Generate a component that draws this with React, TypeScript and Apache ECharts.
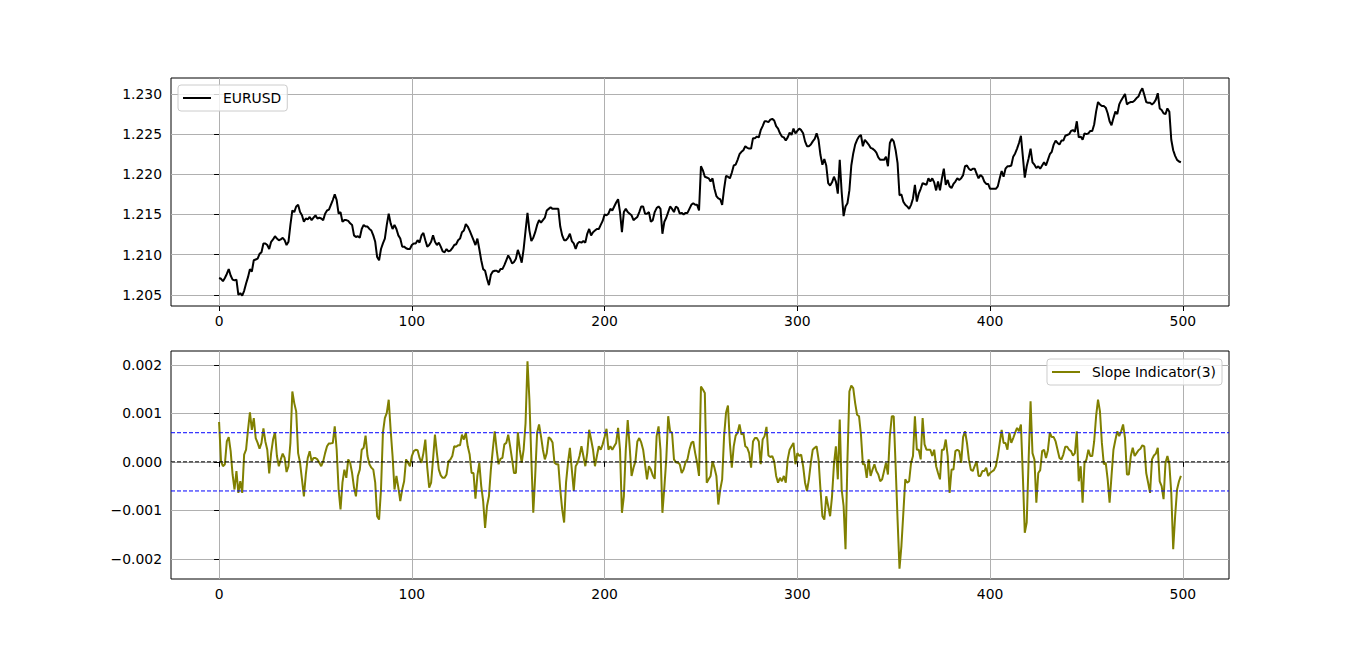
import React, { useEffect, useRef } from "react";
import * as echarts from "echarts";

const xRange = [-24.95, 523.95];
const xTicks = [0, 100, 200, 300, 400, 500];
const priceTicks = [1.205, 1.21, 1.215, 1.22, 1.225, 1.23];
const slopeTicks = [-0.002, -0.001, 0, 0.001, 0.002];
const thresholds = [0.0006, -0.0006];
const zeroLevel = 0;
const priceName = "EURUSD";
const slopeName = "Slope Indicator(3)";

const eurusd = [
  1.2071, 1.2070, 1.2067, 1.2071, 1.2076, 1.2082, 1.2074, 1.2069, 1.2068, 1.2069,
  1.2050, 1.2052, 1.2049, 1.2055, 1.2064, 1.2072, 1.2082, 1.2079, 1.2093, 1.2094,
  1.2095, 1.2101, 1.2103, 1.2114, 1.2114, 1.2112, 1.2107, 1.2116, 1.2119, 1.2123,
  1.2120, 1.2118, 1.2119, 1.2121, 1.2118, 1.2112, 1.2116, 1.2137, 1.2155, 1.2153,
  1.2160, 1.2162, 1.2153, 1.2149, 1.2141, 1.2145, 1.2144, 1.2147, 1.2143, 1.2146,
  1.2149, 1.2145, 1.2146, 1.2145, 1.2143, 1.2151, 1.2155, 1.2156, 1.2162, 1.2168,
  1.2175, 1.2168, 1.2151, 1.2153, 1.2141, 1.2143, 1.2143, 1.2142, 1.2139, 1.2137,
  1.2124, 1.2122, 1.2123, 1.2121, 1.2132, 1.2137, 1.2135, 1.2135, 1.2132, 1.2130,
  1.2124, 1.2116, 1.2097, 1.2093, 1.2107, 1.2114, 1.2120, 1.2137, 1.2151, 1.2139,
  1.2132, 1.2137, 1.2132, 1.2124, 1.2120, 1.2110, 1.2110, 1.2108, 1.2107, 1.2107,
  1.2112, 1.2114, 1.2114, 1.2118, 1.2115, 1.2124, 1.2127, 1.2118, 1.2110, 1.2112,
  1.2116, 1.2124, 1.2116, 1.2112, 1.2115, 1.2110, 1.2104, 1.2103, 1.2107, 1.2104,
  1.2105, 1.2108, 1.2112, 1.2113, 1.2118, 1.2120, 1.2128, 1.2130, 1.2138, 1.2135,
  1.2130, 1.2124, 1.2118, 1.2112, 1.2120, 1.2107, 1.2093, 1.2082, 1.2080, 1.2070,
  1.2062, 1.2075, 1.2079, 1.2080, 1.2080, 1.2078, 1.2082, 1.2082, 1.2087, 1.2093,
  1.2099, 1.2095, 1.2089, 1.2091, 1.2095, 1.2106, 1.2099, 1.2090, 1.2107, 1.2130,
  1.2152, 1.2130, 1.2117, 1.2121, 1.2128, 1.2137, 1.2143, 1.2140, 1.2143, 1.2146,
  1.2155, 1.2157, 1.2159, 1.2157, 1.2157, 1.2157, 1.2157, 1.2135, 1.2124, 1.2118,
  1.2118, 1.2121, 1.2126, 1.2117, 1.2114, 1.2107, 1.2114, 1.2116, 1.2115, 1.2117,
  1.2115, 1.2126, 1.2132, 1.2124, 1.2128, 1.2130, 1.2132, 1.2132, 1.2137, 1.2142,
  1.2150, 1.2149, 1.2151, 1.2157, 1.2155, 1.2160, 1.2165, 1.2169, 1.2153, 1.2128,
  1.2153, 1.2157, 1.2153, 1.2151, 1.2149, 1.2143, 1.2145, 1.2147, 1.2153, 1.2160,
  1.2160, 1.2151, 1.2151, 1.2153, 1.2141, 1.2143, 1.2153, 1.2158, 1.2160, 1.2157,
  1.2126, 1.2141, 1.2146, 1.2153, 1.2160, 1.2157, 1.2153, 1.2160, 1.2158, 1.2151,
  1.2152, 1.2150, 1.2152, 1.2152, 1.2157, 1.2162, 1.2164, 1.2162, 1.2162, 1.2155,
  1.2210, 1.2205, 1.2197, 1.2196, 1.2195, 1.2191, 1.2195, 1.2182, 1.2173, 1.2170,
  1.2169, 1.2162, 1.2182, 1.2198, 1.2197, 1.2195, 1.2202, 1.2211, 1.2212, 1.2218,
  1.2225, 1.2228, 1.2230, 1.2235, 1.2233, 1.2232, 1.2232, 1.2245, 1.2245, 1.2247,
  1.2246, 1.2255, 1.2260, 1.2266, 1.2266, 1.2265, 1.2268, 1.2269, 1.2267, 1.2260,
  1.2257, 1.2251, 1.2247, 1.2246, 1.2242, 1.2246, 1.2252, 1.2249, 1.2257, 1.2251,
  1.2254, 1.2257, 1.2255, 1.2251, 1.2241, 1.2235, 1.2235, 1.2237, 1.2241, 1.2244,
  1.2251, 1.2243, 1.2224, 1.2212, 1.2219, 1.2211, 1.2189, 1.2186, 1.2190, 1.2197,
  1.2191, 1.2176, 1.2218, 1.2178, 1.2148, 1.2160, 1.2164, 1.2180, 1.2211, 1.2226,
  1.2237, 1.2243, 1.2247, 1.2249, 1.2235, 1.2243, 1.2240, 1.2237, 1.2233, 1.2232,
  1.2230, 1.2227, 1.2221, 1.2218, 1.2218, 1.2218, 1.2222, 1.2210, 1.2239, 1.2244,
  1.2241, 1.2230, 1.2214, 1.2174, 1.2175, 1.2166, 1.2162, 1.2160, 1.2157, 1.2162,
  1.2170, 1.2187, 1.2166, 1.2176, 1.2182, 1.2189, 1.2188, 1.2187, 1.2195, 1.2191,
  1.2195, 1.2190, 1.2180, 1.2191, 1.2180, 1.2195, 1.2207, 1.2187, 1.2193, 1.2185,
  1.2183, 1.2188, 1.2191, 1.2195, 1.2193, 1.2195, 1.2199, 1.2210, 1.2211, 1.2207,
  1.2205, 1.2207, 1.2207, 1.2201, 1.2195, 1.2199, 1.2197, 1.2191, 1.2188, 1.2188,
  1.2182, 1.2182, 1.2182, 1.2182, 1.2185, 1.2195, 1.2204, 1.2197, 1.2207, 1.2210,
  1.2210, 1.2211, 1.2222, 1.2226, 1.2232, 1.2239, 1.2248, 1.2222, 1.2196, 1.2210,
  1.2220, 1.2232, 1.2215, 1.2212, 1.2208, 1.2210, 1.2207, 1.2211, 1.2215, 1.2211,
  1.2218, 1.2225, 1.2228, 1.2237, 1.2242, 1.2239, 1.2237, 1.2242, 1.2242, 1.2248,
  1.2249, 1.2250, 1.2254, 1.2255, 1.2253, 1.2266, 1.2246, 1.2247, 1.2243, 1.2251,
  1.2250, 1.2251, 1.2254, 1.2254, 1.2262, 1.2278, 1.2290, 1.2287, 1.2285, 1.2285,
  1.2283, 1.2276, 1.2266, 1.2261, 1.2270, 1.2278, 1.2275, 1.2287, 1.2292, 1.2296,
  1.2300, 1.2287, 1.2289, 1.2290, 1.2290, 1.2292, 1.2295, 1.2297, 1.2303, 1.2307,
  1.2299, 1.2290, 1.2289, 1.2289, 1.2287, 1.2289, 1.2293, 1.2301, 1.2282, 1.2280,
  1.2276, 1.2275, 1.2282, 1.2278, 1.2243, 1.2230, 1.2223, 1.2218, 1.2216, 1.2215,
];

const slope = [
  82e-5, 1e-5, -9e-5, -5e-5, 42e-5, 51e-5, 22e-5, -26e-5, -57e-5, -19e-5,
  -64e-5, -40e-5, -64e-5, 15e-5, 25e-5, 66e-5, 102e-5, 66e-5, 90e-5, 49e-5,
  39e-5, 27e-5, 39e-5, 69e-5, 42e-5, 25e-5, -24e-5, 18e-5, 46e-5, 61e-5,
  12e-5, -9e-5, 5e-5, 17e-5, 8e-5, -21e-5, -9e-5, 39e-5, 145e-5, 121e-5,
  104e-5, 18e-5, -2e-5, -36e-5, -71e-5, -26e-5, 8e-5, 22e-5, 1e-5, 8e-5,
  8e-5, 5e-5, -2e-5, -9e-5, 1e-5, 18e-5, 32e-5, 38e-5, 38e-5, 39e-5,
  73e-5, 25e-5, -57e-5, -98e-5, -43e-5, -16e-5, -33e-5, 5e-5, -2e-5, -23e-5,
  -53e-5, -71e-5, -29e-5, -16e-5, 25e-5, 29e-5, 54e-5, 12e-5, -5e-5, -12e-5,
  -16e-5, -43e-5, -112e-5, -119e-5, -57e-5, 60e-5, 90e-5, 101e-5, 128e-5, 66e-5,
  12e-5, -57e-5, -29e-5, -53e-5, -81e-5, -57e-5, -40e-5, 5e-5, -2e-5, -9e-5,
  12e-5, 22e-5, 25e-5, 24e-5, 8e-5, -2e-5, 18e-5, 46e-5, -12e-5, -53e-5,
  -43e-5, 5e-5, 56e-5, 18e-5, -16e-5, -28e-5, -33e-5, -33e-5, -26e-5, 1e-5,
  5e-5, 12e-5, 32e-5, 31e-5, 34e-5, 34e-5, 56e-5, 46e-5, 60e-5, 32e-5,
  15e-5, -23e-5, -23e-5, -76e-5, -29e-5, -2e-5, -50e-5, -81e-5, -136e-5, -91e-5,
  -71e-5, -16e-5, 25e-5, 63e-5, 25e-5, -5e-5, 6e-5, 8e-5, 36e-5, 39e-5,
  56e-5, 32e-5, 5e-5, -23e-5, -23e-5, 61e-5, 25e-5, -2e-5, 25e-5, 80e-5,
  207e-5, 128e-5, 5e-5, -105e-5, -29e-5, 60e-5, 77e-5, 53e-5, 25e-5, 5e-5,
  18e-5, 51e-5, 47e-5, 40e-5, -2e-5, -5e-5, -5e-5, -57e-5, -98e-5, -125e-5,
  -43e-5, -2e-5, 29e-5, -16e-5, -60e-5, -9e-5, -2e-5, 12e-5, 32e-5, 12e-5,
  -9e-5, 18e-5, 66e-5, 46e-5, 25e-5, -9e-5, 12e-5, 32e-5, 25e-5, 36e-5,
  51e-5, 68e-5, 25e-5, 32e-5, 25e-5, 32e-5, 39e-5, 70e-5, 25e-5, -105e-5,
  -71e-5, 25e-5, 86e-5, 32e-5, -29e-5, -12e-5, 1e-5, 42e-5, 49e-5, 40e-5,
  25e-5, -5e-5, -36e-5, -9e-5, -16e-5, -28e-5, -35e-5, 53e-5, 73e-5, 25e-5,
  -105e-5, -53e-5, 5e-5, 94e-5, 63e-5, 60e-5, 5e-5, -1e-5, -2e-5, -5e-5,
  -23e-5, -16e-5, -1e-5, 5e-5, 25e-5, 39e-5, 42e-5, 18e-5, -2e-5, -29e-5,
  155e-5, 149e-5, 142e-5, -43e-5, -36e-5, -29e-5, 1e-5, -12e-5, -29e-5, -88e-5,
  -57e-5, -36e-5, 53e-5, 101e-5, 116e-5, 39e-5, -12e-5, 32e-5, 54e-5, 60e-5,
  77e-5, 56e-5, 60e-5, 32e-5, 29e-5, 18e-5, -12e-5, 42e-5, 49e-5, 49e-5,
  42e-5, -5e-5, 46e-5, 53e-5, 72e-5, 13e-5, 10e-5, 12e-5, 1e-5, -29e-5,
  -43e-5, -33e-5, -40e-5, -29e-5, -43e-5, 5e-5, 25e-5, 32e-5, 39e-5, -5e-5,
  18e-5, 12e-5, 15e-5, -9e-5, -43e-5, -60e-5, -36e-5, -2e-5, 25e-5, 29e-5,
  32e-5, 5e-5, -57e-5, -112e-5, -119e-5, -71e-5, -91e-5, -112e-5, -71e-5, -5e-5,
  32e-5, -36e-5, 87e-5, -57e-5, -91e-5, -180e-5, 5e-5, 145e-5, 157e-5, 152e-5,
  121e-5, 97e-5, 94e-5, 56e-5, -5e-5, -5e-5, -33e-5, 5e-5, -29e-5, -16e-5,
  -5e-5, -19e-5, -26e-5, -40e-5, -36e-5, -19e-5, -2e-5, -26e-5, 53e-5, 94e-5,
  94e-5, -9e-5, -119e-5, -220e-5, -173e-5, -105e-5, -36e-5, -43e-5, -40e-5, -2e-5,
  12e-5, 94e-5, 25e-5, 25e-5, 5e-5, 90e-5, 36e-5, 25e-5, 25e-5, 25e-5,
  12e-5, 25e-5, -9e-5, -23e-5, -36e-5, 25e-5, 25e-5, 46e-5, 12e-5, -64e-5,
  -16e-5, -16e-5, 22e-5, 25e-5, 22e-5, -2e-5, 51e-5, 63e-5, 39e-5, 5e-5,
  -16e-5, -19e-5, -9e-5, 1e-5, -29e-5, -29e-5, -19e-5, -19e-5, -12e-5, -29e-5,
  -23e-5, -20e-5, -17e-5, -9e-5, 12e-5, 39e-5, 66e-5, 39e-5, 39e-5, 25e-5,
  60e-5, 39e-5, 49e-5, 60e-5, 70e-5, 63e-5, 77e-5, -29e-5, -146e-5, -125e-5,
  5e-5, 125e-5, 18e-5, 5e-5, -84e-5, -23e-5, -17e-5, 22e-5, 25e-5, 8e-5,
  24e-5, 60e-5, 51e-5, 51e-5, 42e-5, 25e-5, 8e-5, 5e-5, 15e-5, 31e-5,
  31e-5, 25e-5, 22e-5, 13e-5, 18e-5, 63e-5, -40e-5, -9e-5, -84e-5, -2e-5,
  5e-5, 25e-5, 12e-5, 12e-5, 42e-5, 94e-5, 128e-5, 104e-5, 39e-5, -5e-5,
  -2e-5, -36e-5, -84e-5, -29e-5, 25e-5, 45e-5, 63e-5, 53e-5, 63e-5, 77e-5,
  49e-5, -26e-5, -26e-5, 12e-5, 29e-5, 12e-5, 18e-5, 24e-5, 27e-5, 34e-5,
  32e-5, -23e-5, -43e-5, -64e-5, 5e-5, 13e-5, 17e-5, 29e-5, -40e-5, -50e-5,
  -77e-5, -2e-5, 12e-5, -5e-5, -64e-5, -180e-5, -112e-5, -57e-5, -40e-5, -29e-5,
];

const FONT = "DejaVu Sans";

export default function App() {
  const ref = useRef<HTMLDivElement>(null);

  useEffect(() => {
    if (!ref.current) return;
    const chart = echarts.init(ref.current, null, { renderer: "svg" });

    const labelStyle = { color: "#000", fontSize: 13.9, fontFamily: FONT };
    const tick = { show: true, length: 5, lineStyle: { color: "#000", width: 1 } };
    const split = { show: true, lineStyle: { color: "#b0b0b0", width: 1 } };

    const xAxisFor = (gi: number) => ({
      type: "value",
      gridIndex: gi,
      min: xRange[0],
      max: xRange[1],
      axisLine: { show: false },
      axisTick: { ...tick, customValues: xTicks },
      axisLabel: { ...labelStyle, margin: 8, customValues: xTicks, formatter: (v: number) => String(v) },
      splitLine: split,
    });

    const minus = (s: string) => s.replace("-", "\u2212");

    const legendCommon = {
      orient: "vertical",
      icon: "rect",
      itemWidth: 28,
      itemHeight: 2,
      backgroundColor: "rgba(255,255,255,0.8)",
      borderColor: "#cccccc",
      borderWidth: 1,
      borderRadius: 3,
      selectedMode: false,
      textStyle: { ...labelStyle, padding: [0, 0, 0, 7] },
    };

    const refLines = [
      ...thresholds.map((t) => ({ level: t, color: "#0000ff" })),
      { level: zeroLevel, color: "#000000" },
    ];

    chart.setOption({
      animation: false,
      backgroundColor: "#fff",
      grid: [
        { left: 171, top: 78, width: 1058, height: 228, show: true, borderColor: "#000", borderWidth: 1, backgroundColor: "transparent" },
        { left: 171, top: 351, width: 1058, height: 228, show: true, borderColor: "#000", borderWidth: 1, backgroundColor: "transparent" },
      ],
      xAxis: [xAxisFor(0), xAxisFor(1)],
      yAxis: [
        {
          type: "value",
          gridIndex: 0,
          min: 1.20361,
          max: 1.23199,
          axisLine: { show: false },
          axisTick: { ...tick, customValues: priceTicks },
          axisLabel: { ...labelStyle, margin: 9, customValues: priceTicks, formatter: (v: number) => v.toFixed(3) },
          splitLine: split,
        },
        {
          type: "value",
          gridIndex: 1,
          min: -0.002414,
          max: 0.002284,
          axisLine: { show: false },
          axisTick: { ...tick, customValues: slopeTicks },
          axisLabel: {
            ...labelStyle,
            margin: 9,
            customValues: slopeTicks,
            formatter: (v: number) => minus(Math.abs(v) < 1e-12 ? "0.000" : v.toFixed(3)),
          },
          splitLine: split,
        },
      ],
      legend: [
        { ...legendCommon, data: [priceName], left: 178, top: 85, padding: [6, 6, 6, 5] },
        { ...legendCommon, data: [slopeName], right: 144, top: 359, padding: [6, 6, 6, 5] },
      ],
      series: [
        {
          name: priceName,
          type: "line",
          xAxisIndex: 0,
          yAxisIndex: 0,
          symbol: "none",
          color: "#000",
          lineStyle: { color: "#000", width: 2 },
          data: eurusd.map((v, i) => [i, v]),
        },
        {
          name: slopeName,
          type: "line",
          xAxisIndex: 1,
          yAxisIndex: 1,
          symbol: "none",
          color: "#808000",
          lineStyle: { color: "#808000", width: 2 },
          data: slope.map((v, i) => [i, v]),
        },
        ...refLines.map((r) => ({
          type: "line",
          xAxisIndex: 1,
          yAxisIndex: 1,
          symbol: "none",
          silent: true,
          z: 3,
          color: r.color,
          lineStyle: { color: r.color, width: 1, type: [4, 2] },
          data: xRange.map((x) => [x, r.level]),
        })),
      ],
    });

    return () => chart.dispose();
  }, []);

  return (
    <div
      ref={ref}
      style={{ position: "fixed", left: 0, top: 0, width: 1366, height: 651, background: "#fff" }}
    />
  );
}
